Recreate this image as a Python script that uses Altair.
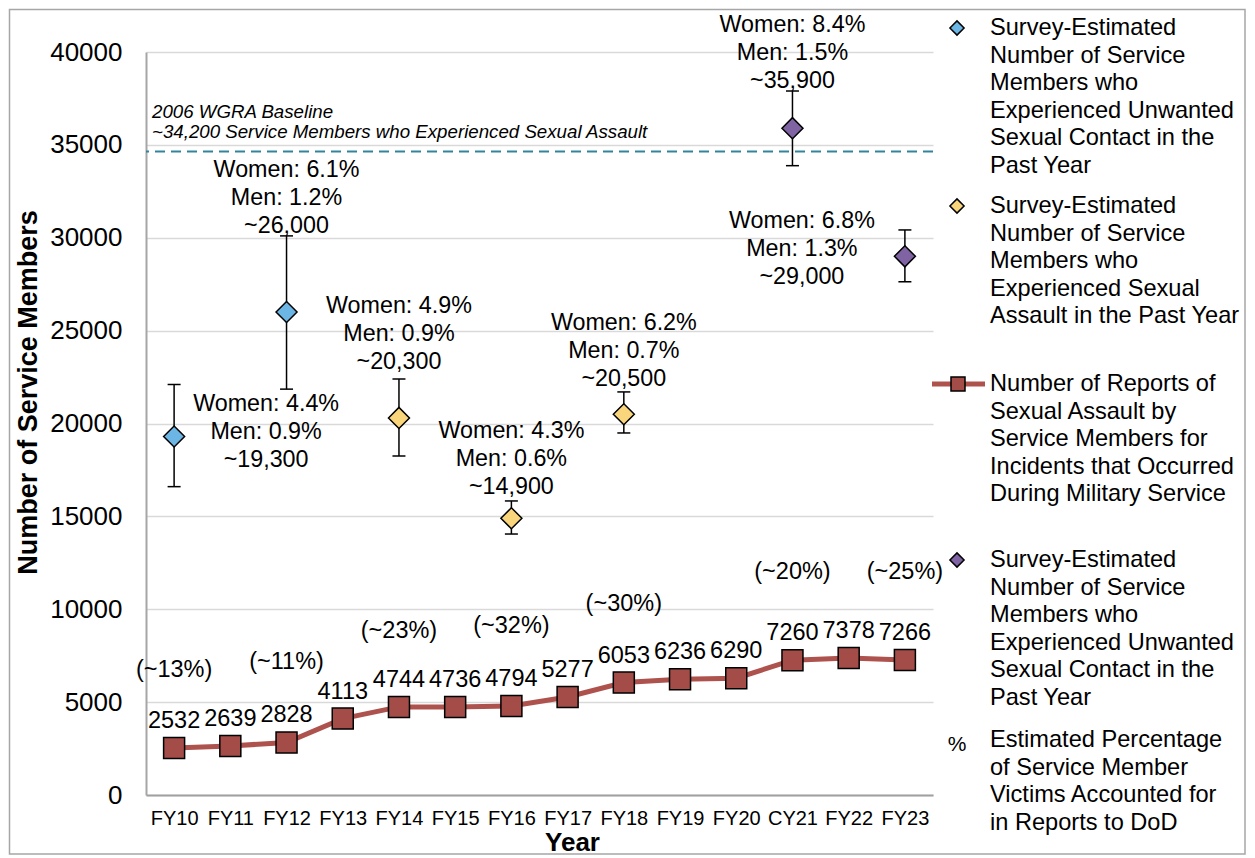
import altair as alt
import pandas as pd

# ---------------- data ----------------
years = ["FY10", "FY11", "FY12", "FY13", "FY14", "FY15", "FY16",
         "FY17", "FY18", "FY19", "FY20", "CY21", "FY22", "FY23"]
reports = [2532, 2639, 2828, 4113, 4744, 4736, 4794,
           5277, 6053, 6236, 6290, 7260, 7378, 7266]

survey_years = ["FY10", "FY12", "FY14", "FY16", "FY18", "CY21", "FY23"]
survey_est = [19300, 26000, 20300, 14900, 20500, 35900, 29000]
survey_low = [16600, 21850, 18250, 14050, 19490, 33880, 27630]
survey_high = [22100, 30100, 22400, 15830, 21700, 37900, 30420]
survey_measure = ["USC (FY10-FY12)", "USC (FY10-FY12)", "SA", "SA", "SA",
                  "USC (CY21-FY23)", "USC (CY21-FY23)"]
women_pct = ["4.4%", "6.1%", "4.9%", "4.3%", "6.2%", "8.4%", "6.8%"]
men_pct = ["0.9%", "1.2%", "0.9%", "0.6%", "0.7%", "1.5%", "1.3%"]
est_text = ["~19,300", "~26,000", "~20,300", "~14,900", "~20,500", "~35,900", "~29,000"]
# anchor (first line) of each survey annotation, in chart units
survey_label_y = [21050, 33650, 26330, 19600, 25410, 41450, 30900]

pct_years = ["FY10", "FY12", "FY14", "FY16", "FY18", "CY21", "FY23"]
pct_text = ["(~13%)", "(~11%)", "(~23%)", "(~32%)", "(~30%)", "(~20%)", "(~25%)"]
pct_label_y = [6730, 7160, 8830, 9100, 10280, 12000, 12000]

baseline_value = 34640
baseline_text = "2006 WGRA Baseline\n~34,200 Service Members who Experienced Sexual Assault"

measure_domain = ["USC (FY10-FY12)", "SA", "USC (CY21-FY23)"]
measure_colors = ["#6CB6E6", "#F9D57C", "#7F63A3"]

legend_texts = [
    "Survey-Estimated\nNumber of Service\nMembers who\nExperienced Unwanted\nSexual Contact in the\nPast Year",
    "Survey-Estimated\nNumber of Service\nMembers who\nExperienced Sexual\nAssault in the Past Year",
    "Number of Reports of\nSexual Assault by\nService Members for\nIncidents that Occurred\nDuring Military Service",
    "Survey-Estimated\nNumber of Service\nMembers who\nExperienced Unwanted\nSexual Contact in the\nPast Year",
    "Estimated Percentage\nof Service Member\nVictims Accounted for\nin Reports to DoD",
]

# ---------------- tables ----------------
df_reports = pd.DataFrame({"year": years, "reports": reports})
df_survey = pd.DataFrame({
    "year": survey_years, "est": survey_est, "low": survey_low, "high": survey_high,
    "measure": survey_measure, "label_y": survey_label_y,
    "label": [f"Women: {w}\nMen: {m}\n{e}" for w, m, e in zip(women_pct, men_pct, est_text)],
})
df_pct = pd.DataFrame({"year": pct_years, "pct": pct_text, "y": pct_label_y})
df_base = pd.DataFrame({"v": [baseline_value]})
one = pd.DataFrame({"k": [0]})

# ---------------- layout ----------------
W, H = 787, 743
PAD_L, PAD_T, PAD_R, PAD_B = 138, 44, 314, 61
FONT = "Liberation Sans"
RED_LINE = "#AE524E"
RED_FILL = "#A34C48"

x_enc = alt.X("year:N",
              scale=alt.Scale(type="point", domain=years, padding=0.5),
              axis=alt.Axis(title="Year", labelAngle=0, labelFontSize=20, labelColor="black",
                            labelPadding=13, ticks=False, tickSize=0, domainColor="#A0A0A0",
                            domainWidth=2, grid=False, titleFontSize=26, titleFontWeight="bold",
                            titleColor="black", titleX=426, titleY=55,
                            titleBaseline="alphabetic"))
y_scale = alt.Scale(domain=[0, 40000], nice=False)
y_axis = alt.Axis(title="Number of Service Members", values=list(range(0, 40001, 5000)),
                  format="d", labelFontSize=26, labelColor="black", labelPadding=24,
                  ticks=False, tickSize=0, domainColor="#A6A6A6", domainWidth=2,
                  gridColor="#D9D9D9", gridWidth=1.5, titleFontSize=27,
                  titleFontWeight="bold", titleColor="black", titleAngle=-90,
                  titleX=-118, titleY=340, titleAlign="center", titleBaseline="middle")


def Y(field):
    return alt.Y(f"{field}:Q", scale=y_scale, axis=y_axis)


layers = []

# outer frame
layers.append(alt.Chart(one).mark_rect(fillOpacity=0, stroke="#A6A6A6", strokeWidth=1.5).encode(
    x=alt.value(-PAD_L + 1.5), x2=alt.value(W + PAD_R - 2),
    y=alt.value(-PAD_T + 1.5), y2=alt.value(H + PAD_B - 2)))

# baseline dashed rule + text
layers.append(alt.Chart(df_base).mark_rule(color="#31849B", strokeWidth=2,
                                           strokeDash=[10, 6]).encode(y=Y("v")))
layers.append(alt.Chart(one).mark_text(align="left", baseline="middle", fontStyle="italic",
                                       fontSize=18.7, lineHeight=19.5, lineBreak="\n",
                                       color="black", font=FONT).encode(
    x=alt.value(6), y=alt.value(60), text=alt.value(baseline_text)))

# error bars
layers.append(alt.Chart(df_survey).mark_rule(color="black", strokeWidth=1.5).encode(
    x=x_enc, y=Y("low"), y2="high"))
for f in ["low", "high"]:
    layers.append(alt.Chart(df_survey).mark_tick(color="black", thickness=1.5, size=13,
                                                 opacity=1).encode(x=x_enc, y=Y(f)))

# survey diamonds
layers.append(alt.Chart(df_survey).mark_point(shape="diamond", filled=True, size=441,
                                              stroke="black", strokeWidth=1.5, opacity=1).encode(
    x=x_enc, y=Y("est"),
    fill=alt.Fill("measure:N", scale=alt.Scale(domain=measure_domain, range=measure_colors),
                  legend=None)))

# reports line + squares
layers.append(alt.Chart(df_reports).mark_line(color=RED_LINE, strokeWidth=5).encode(
    x=x_enc, y=Y("reports")))
layers.append(alt.Chart(df_reports).mark_point(shape="square", filled=True, fill=RED_FILL,
                                               stroke="black", strokeWidth=1.5, size=441,
                                               opacity=1).encode(x=x_enc, y=Y("reports")))
layers.append(alt.Chart(df_reports).mark_text(dy=-27, fontSize=23.5, color="black",
                                              font=FONT).encode(
    x=x_enc, y=Y("reports"), text=alt.Text("reports:Q", format="d")))

# percentage labels
layers.append(alt.Chart(df_pct).mark_text(fontSize=23.5, color="black", font=FONT).encode(
    x=x_enc, y=Y("y"), text="pct:N"))

# survey annotations
dx_map = {"FY10": 92, "FY23": -103}
for yr in survey_years:
    layers.append(alt.Chart(df_survey).transform_filter(alt.datum.year == yr).mark_text(
        fontSize=23.3, lineHeight=28, lineBreak="\n", baseline="middle", color="black",
        font=FONT, dx=dx_map.get(yr, 0)).encode(x=x_enc, y=Y("label_y"), text="label:N"))

# ---------------- manual legend ----------------
LX_SYM, LX_TXT, LH = 811, 844, 27.5
first_line = [-24, 154, 332, 508, 688]
sym_colors = [measure_colors[0], measure_colors[1], None, measure_colors[2], None]
for i, txt in enumerate(legend_texts):
    layers.append(alt.Chart(one).mark_text(align="left", baseline="middle", fontSize=23.6,
                                           lineHeight=LH, lineBreak="\n", color="black",
                                           font=FONT).encode(
        x=alt.value(LX_TXT), y=alt.value(first_line[i]), text=alt.value(txt)))
    if sym_colors[i] is not None:
        layers.append(alt.Chart(one).mark_point(shape="diamond", filled=True, size=200,
                                                fill=sym_colors[i], stroke="black",
                                                strokeWidth=1.5, opacity=1).encode(
            x=alt.value(LX_SYM), y=alt.value(first_line[i])))
layers.append(alt.Chart(one).mark_rule(color=RED_LINE, strokeWidth=5).encode(
    x=alt.value(786), x2=alt.value(839), y=alt.value(first_line[2])))
layers.append(alt.Chart(one).mark_point(shape="square", filled=True, size=196, fill=RED_FILL,
                                        stroke="black", strokeWidth=1.5, opacity=1).encode(
    x=alt.value(812), y=alt.value(first_line[2])))
layers.append(alt.Chart(one).mark_text(fontSize=21, color="black", font=FONT,
                                       baseline="middle").encode(
    x=alt.value(LX_SYM), y=alt.value(first_line[4] + 5), text=alt.value("%")))

chart = alt.layer(*layers).properties(
    width=W, height=H,
    padding={"left": PAD_L, "top": PAD_T, "right": PAD_R, "bottom": PAD_B},
    autosize=alt.AutoSizeParams(type="none"),
    background="white",
).configure_view(stroke=None).configure_axis(
    labelFont=FONT, titleFont=FONT
).configure_text(font=FONT)

chart.save("out.html", embed_options={"renderer": "svg", "actions": False})
